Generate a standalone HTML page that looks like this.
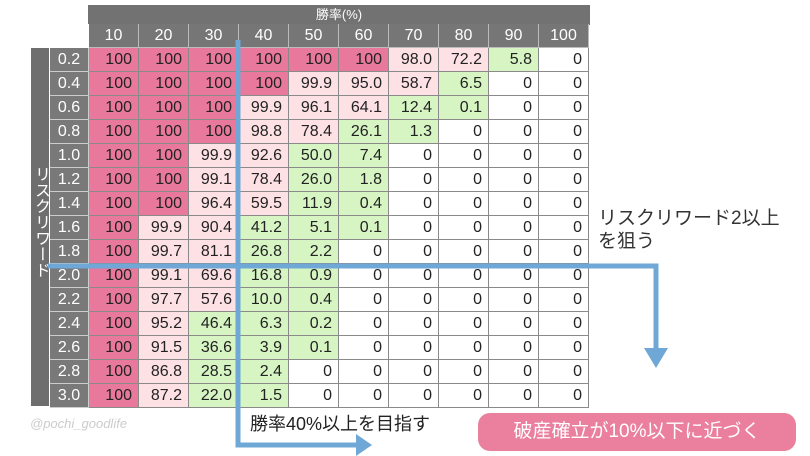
<!DOCTYPE html>
<html><head><meta charset="utf-8"><style>
*{margin:0;padding:0;box-sizing:border-box}
body{width:810px;height:456px;background:#fff;position:relative;overflow:hidden;font-family:"Liberation Sans","Noto Sans CJK JP",sans-serif}
.a{position:absolute}
.t{position:absolute;left:50px;top:24px;display:grid;grid-template-columns:39px repeat(10,50px);grid-auto-rows:24px;font-size:16px;color:#222}
.t div{text-align:right;padding-right:6px;border-right:1px solid #8a8a8a;border-bottom:1px solid #8a8a8a;line-height:23px;white-space:nowrap}
.t div.h{background:#767676;color:#fff;text-align:center;padding:0;border-right:1px solid #bbb;border-bottom:1px solid #bbb}
.t div.e{background:#fff;border:none}
.t div.l{background:#797979;color:#fff;text-align:center;padding:0;border-right:1px solid #ccc;border-bottom:1px solid #ccc}
.s{background:#e9799c}
.p{background:#fde1e5}
.g{background:#d6f5c3}
.w{background:#fff}
</style></head><body>
<div class="a" style="left:88px;top:5px;width:502px;height:20px;background:#727272;color:#fff;font-size:13px;text-align:center;line-height:20px">勝率(%)</div>
<div class="a" style="left:31px;top:48px;width:18px;height:358px;background:#6e6e6e;color:#fff;font-size:16px;writing-mode:vertical-rl;line-height:18px;padding-top:118px">リスクリワード</div>
<div class="t">
<div class="e"></div><div class="h">10</div><div class="h">20</div><div class="h">30</div><div class="h">40</div><div class="h">50</div><div class="h">60</div><div class="h">70</div><div class="h">80</div><div class="h">90</div><div class="h">100</div>
<div class="l">0.2</div><div class="s">100</div><div class="s">100</div><div class="s">100</div><div class="s">100</div><div class="s">100</div><div class="s">100</div><div class="p">98.0</div><div class="p">72.2</div><div class="g">5.8</div><div class="w">0</div>
<div class="l">0.4</div><div class="s">100</div><div class="s">100</div><div class="s">100</div><div class="s">100</div><div class="p">99.9</div><div class="p">95.0</div><div class="p">58.7</div><div class="g">6.5</div><div class="w">0</div><div class="w">0</div>
<div class="l">0.6</div><div class="s">100</div><div class="s">100</div><div class="s">100</div><div class="p">99.9</div><div class="p">96.1</div><div class="p">64.1</div><div class="g">12.4</div><div class="g">0.1</div><div class="w">0</div><div class="w">0</div>
<div class="l">0.8</div><div class="s">100</div><div class="s">100</div><div class="s">100</div><div class="p">98.8</div><div class="p">78.4</div><div class="g">26.1</div><div class="g">1.3</div><div class="w">0</div><div class="w">0</div><div class="w">0</div>
<div class="l">1.0</div><div class="s">100</div><div class="s">100</div><div class="p">99.9</div><div class="p">92.6</div><div class="g">50.0</div><div class="g">7.4</div><div class="w">0</div><div class="w">0</div><div class="w">0</div><div class="w">0</div>
<div class="l">1.2</div><div class="s">100</div><div class="s">100</div><div class="p">99.1</div><div class="p">78.4</div><div class="g">26.0</div><div class="g">1.8</div><div class="w">0</div><div class="w">0</div><div class="w">0</div><div class="w">0</div>
<div class="l">1.4</div><div class="s">100</div><div class="s">100</div><div class="p">96.4</div><div class="p">59.5</div><div class="g">11.9</div><div class="g">0.4</div><div class="w">0</div><div class="w">0</div><div class="w">0</div><div class="w">0</div>
<div class="l">1.6</div><div class="s">100</div><div class="p">99.9</div><div class="p">90.4</div><div class="g">41.2</div><div class="g">5.1</div><div class="g">0.1</div><div class="w">0</div><div class="w">0</div><div class="w">0</div><div class="w">0</div>
<div class="l">1.8</div><div class="s">100</div><div class="p">99.7</div><div class="p">81.1</div><div class="g">26.8</div><div class="g">2.2</div><div class="w">0</div><div class="w">0</div><div class="w">0</div><div class="w">0</div><div class="w">0</div>
<div class="l">2.0</div><div class="s">100</div><div class="p">99.1</div><div class="p">69.6</div><div class="g">16.8</div><div class="g">0.9</div><div class="w">0</div><div class="w">0</div><div class="w">0</div><div class="w">0</div><div class="w">0</div>
<div class="l">2.2</div><div class="s">100</div><div class="p">97.7</div><div class="p">57.6</div><div class="g">10.0</div><div class="g">0.4</div><div class="w">0</div><div class="w">0</div><div class="w">0</div><div class="w">0</div><div class="w">0</div>
<div class="l">2.4</div><div class="s">100</div><div class="p">95.2</div><div class="g">46.4</div><div class="g">6.3</div><div class="g">0.2</div><div class="w">0</div><div class="w">0</div><div class="w">0</div><div class="w">0</div><div class="w">0</div>
<div class="l">2.6</div><div class="s">100</div><div class="p">91.5</div><div class="g">36.6</div><div class="g">3.9</div><div class="g">0.1</div><div class="w">0</div><div class="w">0</div><div class="w">0</div><div class="w">0</div><div class="w">0</div>
<div class="l">2.8</div><div class="s">100</div><div class="p">86.8</div><div class="g">28.5</div><div class="g">2.4</div><div class="w">0</div><div class="w">0</div><div class="w">0</div><div class="w">0</div><div class="w">0</div><div class="w">0</div>
<div class="l">3.0</div><div class="s">100</div><div class="p">87.2</div><div class="g">22.0</div><div class="g">1.5</div><div class="w">0</div><div class="w">0</div><div class="w">0</div><div class="w">0</div><div class="w">0</div><div class="w">0</div>
</div>
<svg class="a" style="left:0;top:0" width="810" height="456">
<g fill="none" stroke="#6fa8d6" stroke-width="5">
<polyline points="238,40 238,445 358,445"/>
<polyline points="48,266 656,266 656,350"/>
</g>
<polygon points="356,434 372,445 356,456" fill="#6fa8d6"/>
<polygon points="644,348 668,348 656,368" fill="#6fa8d6"/>
</svg>
<div class="a" style="left:598px;top:207px;font-size:19px;line-height:23px;color:#333">リスクリワード2以上<br>を狙う</div>
<div class="a" style="left:250px;top:410px;font-size:18px;color:#222">勝率40%以上を目指す</div>
<div class="a" style="left:478px;top:413px;width:318px;height:38px;border-radius:12px;background:#ea7f9e;color:#fff;font-size:19px;text-align:center;line-height:38px">破産確立が10%以下に近づく</div>
<div class="a" style="left:30px;top:416px;font-size:13px;color:#ccc;font-style:italic">@pochi_goodlife</div>
</body></html>
